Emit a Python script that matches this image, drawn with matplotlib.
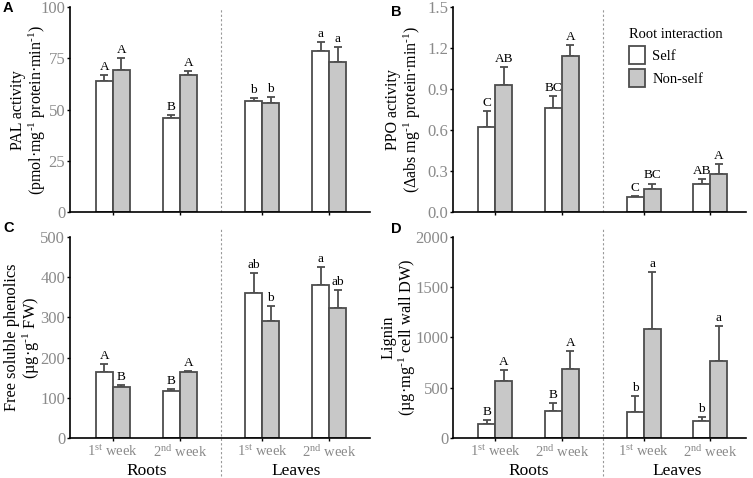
import numpy as np
import matplotlib
matplotlib.use('Agg')
import matplotlib.pyplot as plt
from matplotlib.patches import Patch

plt.rcParams['font.family'] = ['Liberation Serif', 'DejaVu Serif']
plt.rcParams['mathtext.fontset'] = 'custom'
plt.rcParams['mathtext.rm'] = 'Liberation Serif'
plt.rcParams['mathtext.it'] = 'Liberation Serif:italic'

weeks = ['1$^{\\rm st}$ week', '2$^{\\rm nd}$ week', '1$^{\\rm st}$ week', '2$^{\\rm nd}$ week']
organs = ['Roots', 'Leaves']

# PAL
pal_self = [64, 46, 54, 78.5]
pal_self_err = [2.8, 1.6, 1.6, 4.5]
pal_non = [69.5, 66.8, 53.5, 73.2]
pal_non_err = [5.5, 2.0, 2.8, 7.2]
pal_let_self = ['A', 'B', 'b', 'a']
pal_let_non = ['A', 'A', 'b', 'a']

# PPO
ppo_self = [0.62, 0.76, 0.11, 0.21]
ppo_self_err = [0.12, 0.09, 0.01, 0.03]
ppo_non = [0.93, 1.14, 0.17, 0.28]
ppo_non_err = [0.13, 0.08, 0.04, 0.07]
ppo_let_self = ['C', 'BC', 'C', 'AB']
ppo_let_non = ['AB', 'A', 'BC', 'A']

# Free soluble phenolics
phe_self = [165, 116, 360, 381]
phe_self_err = [20, 6, 50, 44]
phe_non = [127, 163, 292, 323]
phe_non_err = [4, 3, 37, 45]
phe_let_self = ['A', 'B', 'ab', 'a']
phe_let_non = ['B', 'A', 'b', 'ab']

# Lignin
lig_self = [137, 265, 260, 167]
lig_self_err = [40, 78, 158, 45]
lig_non = [565, 690, 1085, 770]
lig_non_err = [108, 175, 572, 348]
lig_let_self = ['B', 'B', 'b', 'b']
lig_let_non = ['A', 'A', 'a', 'a']

sup = '$^{\\text{-1}}$'

pos = np.array([1, 2, 3.23, 4.23])
w = 0.254
edge = '#4d4d4d'
grey = '#c8c8c8'
tickgrey = '#8a8a8a'

fig = plt.figure(figsize=(7.53, 4.78), dpi=100)
axA = fig.add_axes([0.093, 0.556, 0.398, 0.429])
axB = fig.add_axes([0.602, 0.556, 0.389, 0.429])
axC = fig.add_axes([0.093, 0.084, 0.398, 0.420])
axD = fig.add_axes([0.602, 0.084, 0.389, 0.420])

panels = [
    (axA, pal_self, pal_self_err, pal_non, pal_non_err, pal_let_self, pal_let_non,
     100, [0, 25, 50, 75, 100], 'PAL activity\n(pmol·mg' + sup + ' protein·min' + sup + ')',
     -0.138, 11.5, False),
    (axB, ppo_self, ppo_self_err, ppo_non, ppo_non_err, ppo_let_self, ppo_let_non,
     1.5, [0.0, 0.3, 0.6, 0.9, 1.2, 1.5], 'PPO activity\n(Δabs mg' + sup + ' protein·min' + sup + ')',
     -0.168, 11.5, False),
    (axC, phe_self, phe_self_err, phe_non, phe_non_err, phe_let_self, phe_let_non,
     500, [0, 100, 200, 300, 400, 500], 'Free soluble phenolics\n(µg·g' + sup + ' FW)',
     -0.158, 11.8, True),
    (axD, lig_self, lig_self_err, lig_non, lig_non_err, lig_let_self, lig_let_non,
     2000, [0, 500, 1000, 1500, 2000], 'Lignin\n(µg·mg' + sup + ' cell wall DW)',
     -0.185, 11.8, True),
]

for ax, s, se, n, ne, ls, ln, ymax, yt, ylab, labx, labfs, bottom in panels:
    ax.bar(pos - w / 2, s, w, color='white', edgecolor=edge, linewidth=1.3, zorder=2)
    ax.bar(pos + w / 2, n, w, color=grey, edgecolor=edge, linewidth=1.3, zorder=2)
    ax.errorbar(pos - w / 2, s, yerr=[np.zeros(4), se], fmt='none', ecolor=edge,
                elinewidth=1.3, capsize=3, capthick=1.3, zorder=1)
    ax.errorbar(pos + w / 2, n, yerr=[np.zeros(4), ne], fmt='none', ecolor=edge,
                elinewidth=1.3, capsize=3, capthick=1.3, zorder=1)
    off = ymax * 0.01
    for i in range(4):
        ax.text(pos[i] - w / 2, s[i] + se[i] + off, ls[i], ha='center', va='bottom', fontsize=9.5)
        ax.text(pos[i] + w / 2, n[i] + ne[i] + off, ln[i], ha='center', va='bottom', fontsize=9.5)
    ax.set_ylim(0, ymax)
    if ax in (axA, axC):
        ax.set_xlim(0.358, 4.836)
    else:
        ax.set_xlim(0.37, 4.77)
    ax.set_yticks(yt)
    if ymax == 1.5:
        ax.set_yticklabels(['%.1f' % v for v in yt])
    ax.spines['top'].set_visible(False)
    ax.spines['right'].set_visible(False)
    ax.spines['left'].set_linewidth(1.2)
    ax.spines['bottom'].set_linewidth(1.2)
    ax.tick_params(axis='y', direction='out', length=2.5, width=1, colors='black',
                   labelcolor=tickgrey, labelsize=12, pad=1)
    ax.tick_params(axis='x', direction='out', length=2.5, width=1, colors='black',
                   labelcolor=tickgrey, labelsize=10.5, pad=2)
    ax.set_xticks(pos)
    if bottom:
        ax.set_xticklabels(weeks)
        ax.text((pos[0] + pos[1]) / 2, -0.163, organs[0], transform=ax.get_xaxis_transform(),
                ha='center', va='center', fontsize=12.5)
        ax.text((pos[2] + pos[3]) / 2, -0.163, organs[1], transform=ax.get_xaxis_transform(),
                ha='center', va='center', fontsize=12.5)
        ax.plot([(pos[1] + pos[2]) / 2] * 2, [-0.19, 1.04], ls=(0, (2, 2)), lw=0.8,
                color='#999999', transform=ax.get_xaxis_transform(), clip_on=False)
    else:
        ax.set_xticklabels([])
        ax.plot([(pos[1] + pos[2]) / 2] * 2, [0, 0.99], ls=(0, (2, 2)), lw=0.8,
                color='#999999', transform=ax.get_xaxis_transform(), clip_on=False)
    ax.text(labx, 0.5, ylab, transform=ax.transAxes, rotation=90, ha='center', va='center',
            multialignment='center', fontsize=labfs, linespacing=1.05)

fig.text(0.011, 0.983, 'A', fontsize=10.5, fontweight='bold', family='Liberation Sans',
         ha='center', va='center')
fig.text(0.526, 0.975, 'B', fontsize=10.5, fontweight='bold', family='Liberation Sans',
         ha='center', va='center')
fig.text(0.011, 0.523, 'C', fontsize=10.5, fontweight='bold', family='Liberation Sans',
         ha='center', va='center')
fig.text(0.526, 0.521, 'D', fontsize=10.5, fontweight='bold', family='Liberation Sans',
         ha='center', va='center')

handles = [Patch(facecolor='white', edgecolor=edge, linewidth=1.3, label='Self'),
           Patch(facecolor=grey, edgecolor=edge, linewidth=1.3, label='Non-self')]
leg = axB.legend(handles=handles, title='Root interaction', loc='upper left',
                 bbox_to_anchor=(0.6, 0.9), frameon=False, fontsize=10.5,
                 title_fontsize=10.5, handlelength=1.1, handleheight=1.55,
                 handletextpad=0.5, labelspacing=0.35, borderpad=0, borderaxespad=0)
leg._legend_box.align = 'left'

fig.savefig('out.png', dpi=100)
